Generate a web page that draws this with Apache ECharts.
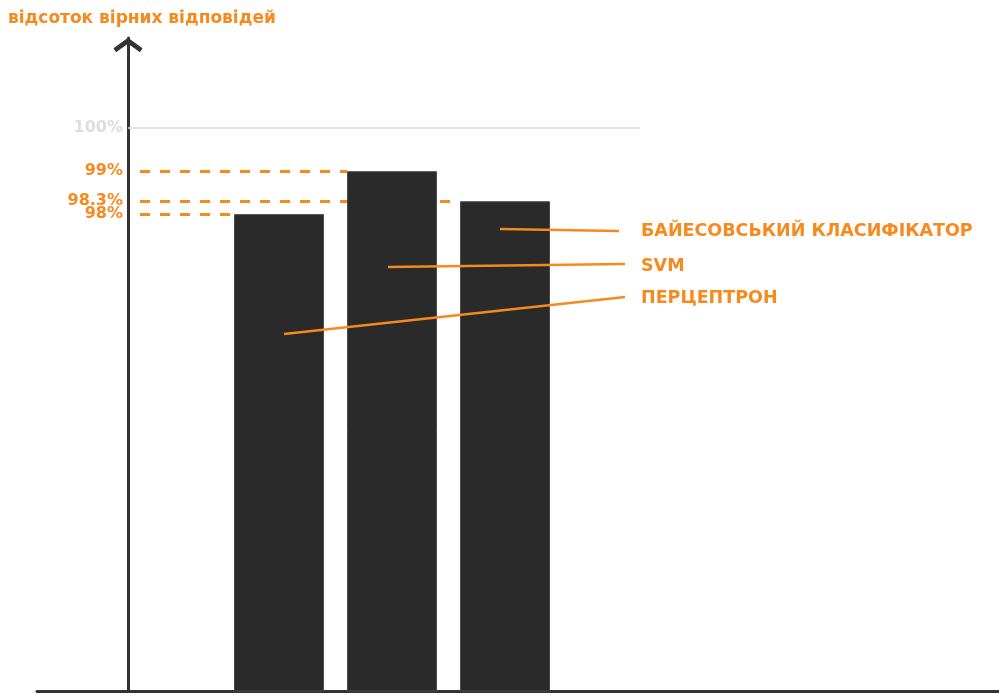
<!DOCTYPE html>
<html><head><meta charset="utf-8">
<script src="https://cdn.jsdelivr.net/npm/echarts@6/dist/echarts.min.js"></script>
<style>html,body{margin:0;padding:0;background:#fff}#c{width:999px;height:700px}</style>
</head><body><div id="c"></div>
<script>
// ---- data ----
const categories = ['ПЕРЦЕПТРОН', 'SVM', 'БАЙЕСОВСЬКИЙ КЛАСИФІКАТОР'];
const accuracy = [98, 99, 98.3];
const referenceValue = 100;
const yTitle = 'відсоток вірних відповідей';
const unit = '%';

// ---- styles / layout ----
const ORANGE = '#f68a1f';
const DARK = '#2a2a2a';
const AXIS = '#333333';
const FONT = '"DejaVu Sans", sans-serif';
const BAR_W = 90;
// leader line layout: [dx from bar centre, start y, end x, end y, label y]
const leaderLayout = [
  [5, 334, 625, 297, 298],
  [-4, 267, 625, 264, 266],
  [-5, 229, 619, 231, 231]
];

const chart = echarts.init(document.getElementById('c'), null, {renderer: 'canvas'});

chart.setOption({
  animation: false,
  backgroundColor: '#fff',
  title: {
    text: yTitle, left: 8, top: 10, padding: 0,
    textStyle: {color: ORANGE, fontFamily: FONT, fontWeight: 'bold', fontSize: 17}
  },
  grid: [
    {left: 222.5, width: 339, top: 38, bottom: 9},
    {left: 37, right: 0, top: 38, bottom: 9}
  ],
  xAxis: [
    {type: 'category', gridIndex: 0, data: categories,
     axisLine: {show: false}, axisTick: {show: false}, axisLabel: {show: false}},
    {type: 'value', gridIndex: 1, min: 0, max: 1,
     axisLine: {show: true, lineStyle: {color: AXIS, width: 3}},
     axisTick: {show: false}, axisLabel: {show: false}, splitLine: {show: false}}
  ],
  yAxis: [
    {type: 'value', gridIndex: 0, min: 86.9, max: 102.1, offset: 94.5,
     axisLine: {show: true, lineStyle: {color: AXIS, width: 3},
       symbol: ['none', 'path://M0,10.5 L14.5,0 L29,10.5 L26.5,14.5 L14.5,6 L2.5,14.5 Z'],
       symbolSize: [29, 14.5], symbolOffset: [0, -7]},
     axisTick: {show: false}, axisLabel: {show: false}, splitLine: {show: false}},
    {type: 'value', gridIndex: 1, show: false}
  ],
  series: [
    {
      id: 'dashes', type: 'line', xAxisIndex: 0, yAxisIndex: 0, data: [], z: 1
    },
    {
      type: 'line', xAxisIndex: 0, yAxisIndex: 0, data: [], z: 1,
      markLine: {
        silent: true, symbol: ['none', 'none'],
        lineStyle: {color: '#dddddd', width: 1.5, type: 'solid'},
        label: {show: true, position: 'start', distance: 5, formatter: '{c}' + unit,
          color: '#dddddd', fontFamily: FONT, fontWeight: 'bold', fontSize: 16},
        data: [[{x: 128, yAxis: referenceValue, value: referenceValue},
                {x: 640, yAxis: referenceValue, value: referenceValue}]]
      }
    },
    {
      type: 'bar', xAxisIndex: 0, yAxisIndex: 0, zlevel: 1, z: 2,
      data: accuracy, barWidth: BAR_W,
      itemStyle: {color: DARK, borderColor: '#4a4a4a', borderWidth: 1}
    }
  ]
});

// dashed guide lines from the axis to each bar's left edge, + leader lines and labels
const dashedLines = [];
const graphics = [];
categories.forEach((c, i) => {
  const cx = chart.convertToPixel({xAxisIndex: 0}, c);
  dashedLines.push([
    {x: 140, yAxis: accuracy[i], value: accuracy[i]},
    {x: cx - BAR_W / 2, yAxis: accuracy[i], value: accuracy[i]}
  ]);
  const L = leaderLayout[i];
  graphics.push({
    type: 'line', zlevel: 2, z: 20, silent: true,
    shape: {x1: cx + L[0], y1: L[1], x2: L[2], y2: L[3]},
    style: {stroke: ORANGE, lineWidth: 2.5}
  });
  graphics.push({
    type: 'text', zlevel: 2, z: 20, silent: true, x: 641, y: L[4],
    style: {text: c, fill: ORANGE, font: 'bold 17.5px ' + FONT, textVerticalAlign: 'middle', verticalAlign: 'middle'}
  });
});
chart.setOption({
  series: [{
    id: 'dashes',
    markLine: {
      silent: true, symbol: ['none', 'none'],
      lineStyle: {color: ORANGE, width: 3, type: [10, 10]},
      label: {show: true, position: 'start', distance: 17, formatter: '{c}' + unit,
        color: ORANGE, fontFamily: FONT, fontWeight: 'bold', fontSize: 16},
      data: dashedLines
    }
  }],
  graphic: graphics
});
</script></body></html>
